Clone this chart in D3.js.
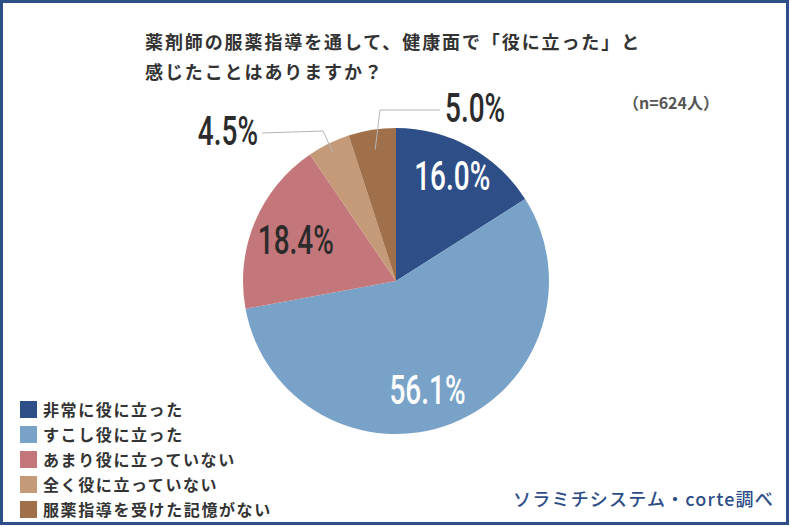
<!DOCTYPE html>
<html>
<head>
<meta charset="utf-8">
<script src="https://cdn.jsdelivr.net/npm/d3@7"></script>
<style>
  html, body { margin: 0; padding: 0; background: #fff; }
  svg { display: block; }
</style>
</head>
<body>
<div id="chart"></div>
<script>
// Survey data
const categories = ['非常に役に立った', 'すこし役に立った', 'あまり役に立っていない', '全く役に立っていない', '服薬指導を受けた記憶がない'];
const values = [16.0, 56.1, 18.4, 4.5, 5.0];
const colors = ['#2e4e88', '#78a2c7', '#c4777a', '#c59a78', '#a0704a'];
const titleLines = ['薬剤師の服薬指導を通して、健康面で「役に立った」と', '感じたことはありますか？'];
const sampleNote = '（n=624人）';
const sourceNote = 'ソラミチシステム・corte調べ';

const width = 791;
const height = 527;
const jp = '"Noto Sans CJK JP", "Noto Sans", sans-serif';
const num = 'Roboto, "DejaVu Sans Condensed", sans-serif';

const svg = d3.select('#chart')
  .append('svg')
  .attr('width', width)
  .attr('height', height);

// Frame
svg.append('rect')
  .attr('x', 1.5)
  .attr('y', 1.5)
  .attr('width', width - 5)
  .attr('height', height - 5)
  .attr('fill', '#fff')
  .attr('stroke', '#2e4e88')
  .attr('stroke-width', 3);

// Title
svg.selectAll('.title')
  .data(titleLines)
  .enter()
  .append('text')
  .attr('class', 'title')
  .attr('x', 145)
  .attr('y', (d, i) => 49 + i * 30)
  .style('font-family', jp)
  .style('font-weight', 'bold')
  .style('font-size', '18px')
  .style('letter-spacing', '1.9px')
  .style('fill', '#333')
  .text(d => d);

svg.append('text')
  .attr('x', 719)
  .attr('y', 109)
  .attr('text-anchor', 'end')
  .style('font-family', jp)
  .style('font-weight', 'bold')
  .style('font-size', '16px')
  .style('fill', '#555')
  .text(sampleNote);

// Pie
const cx = 396, cy = 281, radius = 153;
const g = svg.append('g').attr('transform', `translate(${cx},${cy})`);

const pie = d3.pie().sort(null).value(d => d);
const arcs = pie(values);
const arc = d3.arc().innerRadius(0).outerRadius(radius);

g.selectAll('.slice')
  .data(arcs)
  .enter()
  .append('path')
  .attr('class', 'slice')
  .attr('d', arc)
  .attr('fill', (d, i) => colors[i]);

// Inside labels for the three large slices
const insideColor = ['#fff', '#fff', '#2b2b2b'];
const labelRadius = [0.79, 0.76, 0.71];
const labelShiftX = [-2, -11, 0];

function polar(d, r) {
  const a = (d.startAngle + d.endAngle) / 2;
  return [Math.sin(a) * r, -Math.cos(a) * r];
}

function pctText(sel, x, y, anchor, fill, value) {
  sel.append('text')
    .attr('transform', `translate(${x},${y}) scale(0.7,1)`)
    .attr('text-anchor', anchor)
    .style('font-family', num)
    .style('font-weight', '500')
    .style('font-size', '40px')
    .style('fill', fill)
    .text(value.toFixed(1) + '%');
}

arcs.slice(0, 3).forEach((d, i) => {
  const p = polar(d, radius * labelRadius[i]);
  pctText(g, p[0] + labelShiftX[i], p[1] + 14.5, 'middle', insideColor[i], values[i]);
});

// Outside labels with leader lines for the two small slices
const outside = [
  { idx: 3, r: 0.94, elbow: [-73, -150], start: [-134, -148], tx: -138, ty: -136, anchor: 'end' },
  { idx: 4, r: 0.87, elbow: [-16, -171], start: [44, -171], tx: 49, ty: -159, anchor: 'start' }
];

outside.forEach(o => {
  const inner = polar(arcs[o.idx], radius * o.r);
  g.append('path')
    .attr('d', d3.line()([o.start, o.elbow, inner]))
    .attr('fill', 'none')
    .attr('stroke', '#b5b5b5')
    .attr('stroke-width', 1);
  pctText(g, o.tx, o.ty, o.anchor, '#2b2b2b', values[o.idx]);
});

// Legend
const legend = svg.selectAll('.legend')
  .data(categories)
  .enter()
  .append('g')
  .attr('class', 'legend')
  .attr('transform', (d, i) => `translate(20,${401 + i * 25})`);

legend.append('rect')
  .attr('width', 17)
  .attr('height', 17)
  .attr('fill', (d, i) => colors[i]);

legend.append('text')
  .attr('x', 23)
  .attr('y', 14.5)
  .style('font-family', jp)
  .style('font-weight', 'bold')
  .style('font-size', '16px')
  .style('letter-spacing', '1.6px')
  .style('fill', '#333')
  .text(d => d);

// Source
svg.append('text')
  .attr('x', 774)
  .attr('y', 506)
  .attr('text-anchor', 'end')
  .style('font-family', jp)
  .style('font-weight', '500')
  .style('font-size', '18px')
  .style('letter-spacing', '1.2px')
  .style('fill', '#2e4e88')
  .text(sourceNote);
</script>
</body>
</html>
